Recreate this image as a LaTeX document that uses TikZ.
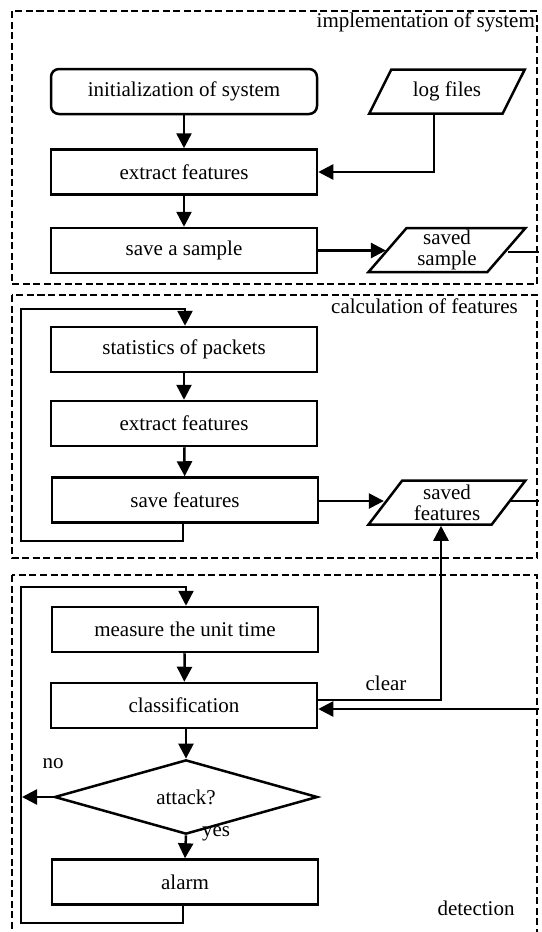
\documentclass[tikz,border=0pt]{standalone}
\usepackage{fontspec}
\setmainfont{Liberation Serif}
\usetikzlibrary{arrows.meta,shapes.geometric,calc}
\begin{document}
\begin{tikzpicture}[x=1pt,y=-1pt,
  font=\fontsize{21}{21}\selectfont,
  box/.style={draw,line width=2.5pt,minimum width=266pt,minimum height=45pt,inner sep=0pt},
  para/.style={draw,line width=2.5pt,trapezium,trapezium left angle=55,trapezium right angle=125,
    trapezium stretches=true,minimum width=157pt,minimum height=44pt,inner sep=0pt,align=center},
  frame/.style={line width=2.4pt,dash pattern=on 7pt off 3.5pt},
  arr/.style={line width=2.5pt,-{Triangle[length=15pt,width=15pt]}},
  ln/.style={line width=2.5pt},
  lbl/.style={inner sep=0pt}]
\useasboundingbox (0,0) rectangle (541,932);
% frames
\draw[frame] (12,11) rectangle (537,284);
\draw[frame] (12,295) rectangle (537,558);
\draw[frame] (12,575) rectangle (537,960);
\node[lbl,anchor=base east] (t1) at (535,27) {implementation of system};
\node[lbl,anchor=base east] (t2) at (518,313) {calculation of features};
\node[lbl,anchor=base] (t3) at (476,915) {detection};
% section 1
\node[box,rounded corners=8pt] (init) at (184,91.5) {initialization of system};
\node[para] (logf) at (447,91.5) {log files};
\node[box] (ext1) at (184,172) {extract features};
\node[box] (samp) at (184,250.5) {save a sample};
\node[para] (ssamp) at (447,250) {saved\\sample};
\coordinate (e1) at (539,252);
\draw[arr] (init) -- (ext1);
\draw[arr] (ext1) -- (samp);
\draw[arr] ([xshift=-13pt]logf.south) |- (ext1.east);
\draw[arr] (samp.east) -- (samp.east -| ssamp.left side);
\draw[ln] (e1 -| ssamp.right side) -- (e1);
% section 2
\node[box] (stat) at (184,349.5) {statistics of packets};
\node[box] (ext2) at (184,423.5) {extract features};
\node[box] (savef) at (185,500) {save features};
\node[para] (sfeat) at (447,502.5) {saved\\features};
\coordinate (e2) at (539,501);
\coordinate (l2a) at (21,541);
\coordinate (l2b) at (21,309);
\draw[arr] (stat) -- (ext2);
\draw[arr] (ext2) -- (savef);
\draw[arr] ([xshift=-2pt]savef.south) |- (l2a) -- (l2b) -| ([xshift=1pt]stat.north);
\draw[arr] (savef.east |- e2) -- (e2 -| sfeat.left side);
\draw[ln] (e2 -| sfeat.right side) -- (e2);
% section 3
\node[box] (meas) at (185,629.5) {measure the unit time};
\node[box] (cls) at (184,705.5) {classification};
\node[draw,diamond,line width=2.5pt,minimum width=263pt,minimum height=68pt,inner sep=0pt] (att) at (186,797) {attack?};
\node[box] (alarm) at (185,882) {alarm};
\coordinate (l3a) at (21,923);
\coordinate (l3b) at (21,587);
\coordinate (no) at (22,797);
\coordinate (e3) at (539,709);
\draw[arr] (meas) -- (cls);
\draw[arr] ([xshift=2pt]cls.south) -- (att.north);
\draw[arr] (att.south) -- (alarm.north);
\draw[arr] (att.west) -- (no);
\draw[arr] ([xshift=-2pt]alarm.south) |- (l3a) -- (l3b) -| ([xshift=1pt]meas.north);
\draw[arr] (cls.east |- 0,700) -| ([xshift=-6pt]sfeat.south);
\draw[arr] (e3) -- (cls.east |- e3);
\node[lbl,anchor=base] (clear) at (386,690) {clear};
\node[lbl,anchor=base] (nolbl) at (53,768) {no};
\node[lbl,anchor=base] (yeslbl) at (216,836) {yes};
\end{tikzpicture}
\end{document}
